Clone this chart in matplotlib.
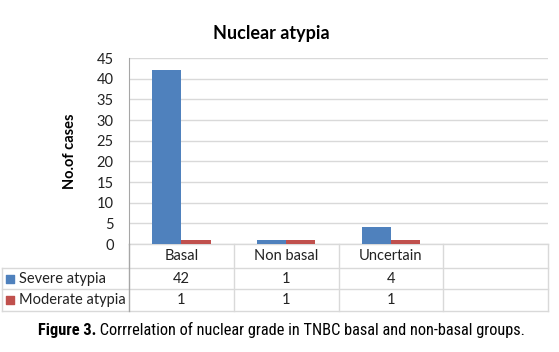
import matplotlib.pyplot as plt
import numpy as np

categories = ['Basal', 'Non basal', 'Uncertain', '']
severe = [42, 1, 4]
moderate = [1, 1, 1]
series_names = ['Severe atypia', 'Moderate atypia']
series_colors = ['#4F81BD', '#C0504D']
yticks = np.arange(0, 50, 5)

plt.rcParams['font.family'] = ['Lato', 'DejaVu Sans']

fig = plt.figure(figsize=(5.59, 3.52), dpi=100)
ax = fig.add_axes([129 / 559, 108 / 352, 419 / 559, 186 / 352])

x = np.arange(len(severe)) + 0.5
w = 0.28
ax.bar(x - w / 2, severe, w, color=series_colors[0], zorder=3)
ax.bar(x + w / 2, moderate, w, color=series_colors[1], zorder=3)

ax.set_xlim(0, len(categories))
ax.set_ylim(0, 45)
ax.set_yticks(yticks)
ax.set_yticklabels([str(v) for v in yticks], fontsize=10.5, color='#222222')
ax.tick_params(axis='y', length=0, pad=11)
ax.set_xticks([])
ax.grid(axis='y', color='#D9D9D9', linewidth=1, zorder=0)
for s in ['top', 'right', 'bottom']:
    ax.spines[s].set_visible(False)
ax.spines['left'].set_color('#A6A6A6')
ax.set_ylabel('No.of cases', fontsize=10.5, fontweight='bold', labelpad=14)

fig.text(271 / 559, 1 - 33 / 352, 'Nuclear atypia', ha='center', va='center',
         fontsize=13, fontweight='bold')

# data table under the plot (y in axes fraction, x in category units)
tr = ax.get_xaxis_transform()
tcol = '#D9D9D9'
x_left = -1.212
n = len(categories)
row_lines = [0, -0.129, -0.242, -0.360]
ax.plot([0, n], [row_lines[0]] * 2, transform=tr, color=tcol, lw=1, clip_on=False)
for yl in row_lines[1:]:
    ax.plot([x_left, n], [yl] * 2, transform=tr, color=tcol, lw=1, clip_on=False)
for xv in range(1, n + 1):
    ax.plot([xv, xv], [0, row_lines[-1]], transform=tr, color=tcol, lw=1, clip_on=False)
ax.plot([x_left, x_left], [row_lines[1], row_lines[-1]], transform=tr, color=tcol,
        lw=1, clip_on=False)
ax.plot([0, 0], [0, row_lines[-1]], transform=tr, color='#A6A6A6', lw=1, clip_on=False)

for i, c in enumerate(categories):
    ax.text(i + 0.5, -0.0645, c, transform=tr, ha='center', va='center', fontsize=10.5,
            color='#222222')

row_y = [-0.188, -0.301]
for name, col, vals, yy in zip(series_names, series_colors, [severe, moderate], row_y):
    ax.scatter([x_left + 0.08], [yy], transform=tr, marker='s', s=30, color=col,
               clip_on=False)
    ax.text(x_left + 0.165, yy, name, transform=tr, ha='left', va='center',
            fontsize=10.5, color='#222222')
    for i, v in enumerate(vals):
        ax.text(i + 0.5, yy, str(v), transform=tr, ha='center', va='center',
                fontsize=10.5, color='#222222')

# caption, shrunk until it fits the reference width
cap_font = ['Roboto Condensed', 'Liberation Sans Narrow', 'Roboto', 'DejaVu Sans']
renderer = fig.canvas.get_renderer()
cap_y = 1 - 335 / 352
size = 12
while True:
    t1 = fig.text(0, cap_y, 'Figure 3.', fontsize=size, fontweight='bold',
                  family=cap_font, ha='left', va='baseline')
    t2 = fig.text(0, cap_y, ' Corrrelation of nuclear grade in TNBC basal and non-basal groups.',
                  fontsize=size, family=cap_font, ha='left', va='baseline')
    w1 = t1.get_window_extent(renderer).width
    w2 = t2.get_window_extent(renderer).width
    if w1 + w2 <= 495 or size <= 7:
        break
    t1.remove()
    t2.remove()
    size -= 0.25
x0 = (fig.bbox.width - w1 - w2) / 2 + 2
t1.set_x(x0 / fig.bbox.width)
t2.set_x((x0 + w1) / fig.bbox.width)

fig.savefig('out.png', dpi=100)
